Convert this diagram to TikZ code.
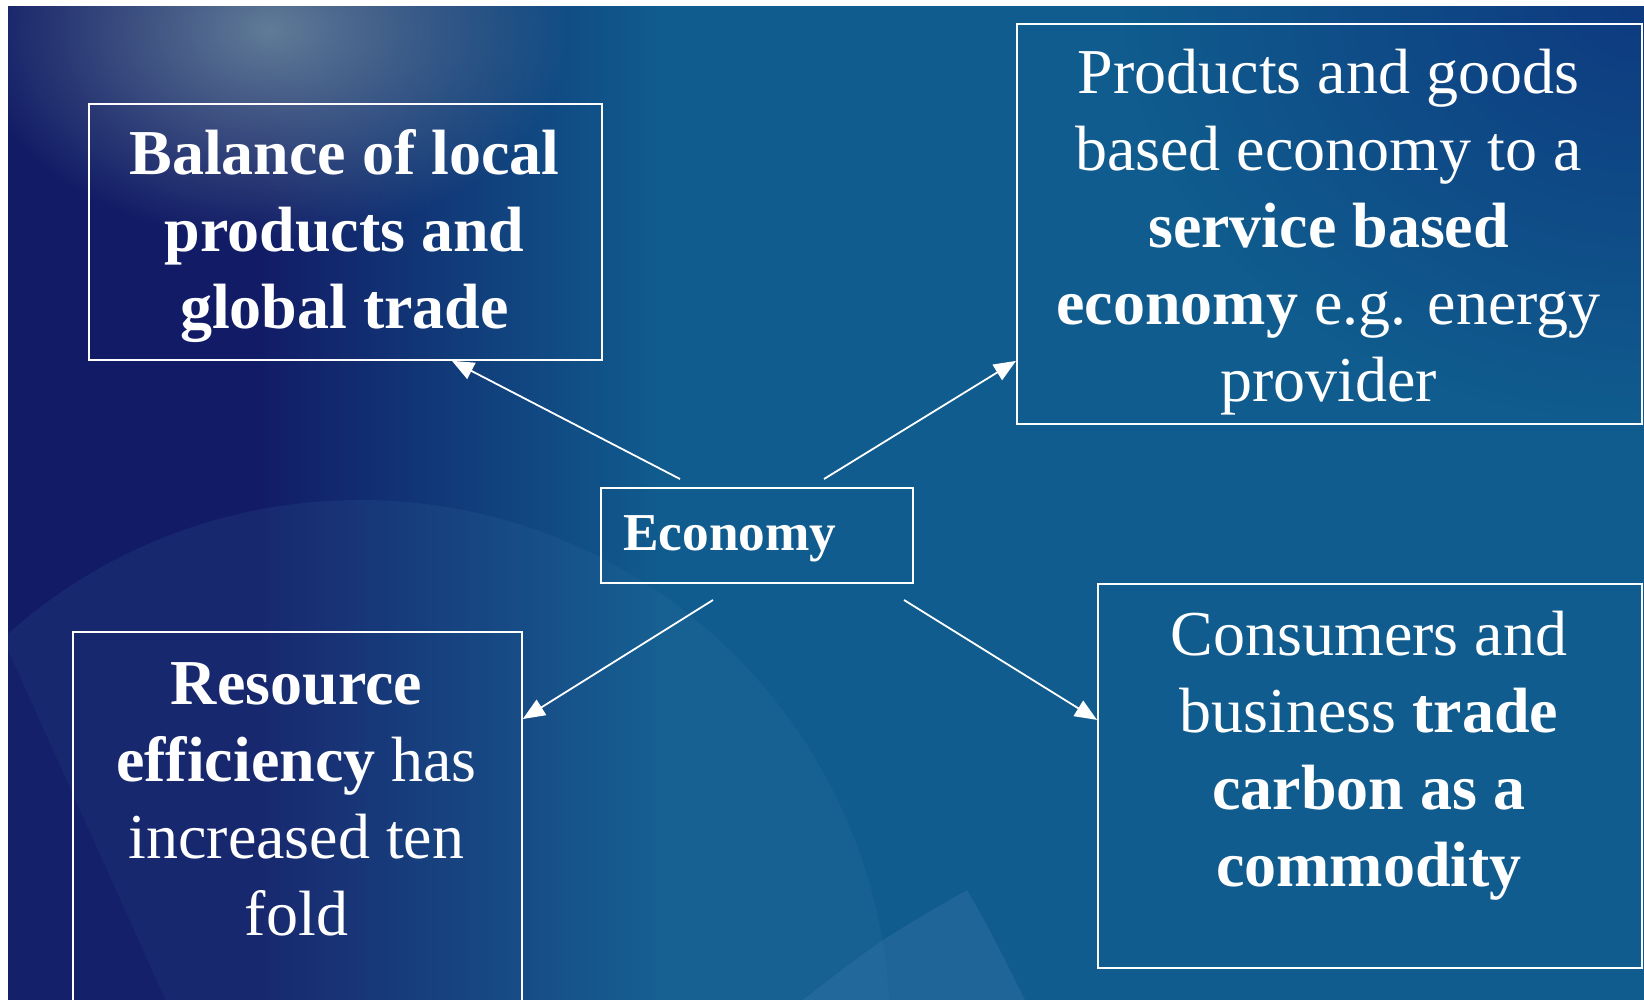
\documentclass[tikz,border=0pt]{standalone}
\usepackage{fontspec}
\setmainfont{Liberation Serif}
\usetikzlibrary{arrows.meta,calc,fadings}
\definecolor{bgmid}{RGB}{16,92,142}
\definecolor{bgnavy}{RGB}{18,28,102}
\definecolor{bgglow}{RGB}{110,140,160}
\definecolor{bgdeep}{RGB}{14,58,128}
\definecolor{bglight}{RGB}{70,125,175}
\tikzfading[name=softglow, inner color=transparent!0, outer color=transparent!100]
\tikzset{
  box/.style={draw=white, line width=1.8pt, rectangle, inner sep=0pt},
  txt/.style={text=white, align=center, inner sep=0pt, font=\fontsize{64}{76.8}\selectfont},
  econtxt/.style={text=white, inner sep=0pt, font=\fontsize{53.3}{64}\selectfont\bfseries},
  arr/.style={draw=white, line width=1.8pt, -{Triangle[length=22pt,width=18pt]}},
}
\begin{document}
\begin{tikzpicture}[x=1pt,y=-1pt]
\useasboundingbox (0,0) rectangle (1644,999);
\fill[white] (0,0) rectangle (1644,999);
\begin{scope}
\clip (8,6) rectangle (1660,1010);
\fill[bgmid] (8,6) rectangle (1660,1010);
\fill[bgnavy] (8,6) rectangle (260,1010);
\shade[left color=bgnavy, right color=bgmid] (259,6) rectangle (660,1010);
\fill[bgdeep, path fading=softglow] (1644,0) ellipse [x radius=520pt, y radius=420pt];
\fill[bgglow, path fading=softglow, opacity=0.85] (270,30) ellipse [x radius=300pt, y radius=210pt];
\fill[bglight, opacity=0.13] (360,1030) circle [radius=530pt];
\fill[bgnavy, opacity=0.5] (8,650) -- (170,1010) -- (8,1010) -- cycle;
\fill[bglight, opacity=0.28] (967,890) .. controls (990,930) .. (1030,1010) -- (790,1010) .. controls (880,940) .. (967,890) -- cycle;
\end{scope}

\node[box, minimum width=513pt, minimum height=256pt, anchor=north west] (b1) at (88,103) {};
\node[box, minimum width=625pt, minimum height=400pt, anchor=north west] (b2) at (1016,23) {};
\node[box, minimum width=312pt, minimum height=95pt, anchor=north west] (eco) at (600,487) {};
\node[box, minimum width=449pt, minimum height=400pt, anchor=north west] (b3) at (72,631) {};
\node[box, minimum width=544pt, minimum height=384pt, anchor=north west] (b4) at (1097,583) {};

\node[txt, anchor=base] (t1) at (344.5,328) {\bfseries Balance of local\\ \bfseries products and\\ \bfseries global trade};
\node[txt, anchor=base] (t2) at (1328.5,401) {Products and goods\\ based economy to a\\ \textbf{service based}\\ \textbf{economy} e.g. energy\\ provider};
\node[txt, anchor=base] (t3) at (296.5,935) {\textbf{Resource}\\ \textbf{efficiency} has\\ increased ten\\ fold};
\node[txt, anchor=base] (t4) at (1369,886) {Consumers and\\ business \textbf{trade}\\ \textbf{carbon as a}\\ \textbf{commodity}};
\node[econtxt, anchor=base west] (te) at (623,550) {Economy};

\coordinate (s1) at (680,479);
\coordinate (s2) at (824,479);
\coordinate (s3) at (713,600);
\coordinate (s4) at (904,600);
\draw[arr] (s1) -- ($(b1.south)+(106.5,0)$);
\draw[arr] (s2) -- ($(b2.west)+(0,137)$);
\draw[arr] (s3) -- ($(b3.north east)+(0,88)$);
\draw[arr] (s4) -- ($(b4.west)+(0,-56)$);
\end{tikzpicture}
\end{document}
